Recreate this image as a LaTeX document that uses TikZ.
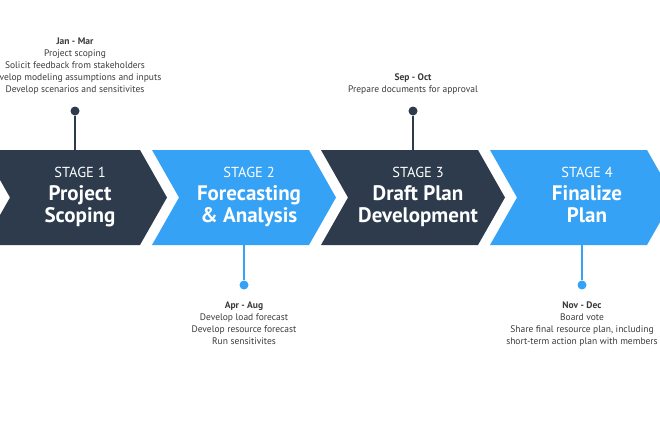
\documentclass[tikz,border=0pt]{standalone}
\usepackage{fontspec}
\setmainfont{PT Sans}
\usetikzlibrary{positioning}
\definecolor{navy}{HTML}{2D3B4D}
\definecolor{sky}{HTML}{36A2F5}
\definecolor{ink}{HTML}{3A3A3A}

\begin{document}
\begin{tikzpicture}[x=1pt,y=-1pt,
    box/.style={minimum width=184pt,minimum height=95pt,inner sep=0pt},
    stagetag/.style={anchor=base,text=white,font=\fontsize{14.5}{16}\selectfont},
    stagename/.style={anchor=base,text=white,font=\fontsize{21}{22}\selectfont\bfseries},
    pin/.style={circle,fill,inner sep=0pt,minimum size=9pt},
    stem/.style={line width=2.5pt},
    note/.style={align=center,inner sep=0pt,text=ink,font=\fontsize{9.5}{12}\selectfont}]
        \useasboundingbox (0,0) rectangle (660,428);

        % chevrons
        \foreach \n/\xa/\col/\la/\lb in {1/-17/navy/Project/Scoping,
                2/152/sky/Forecasting/\& Analysis,
                3/321/navy/Draft Plan/Development,
                4/490/sky/Finalize/Plan}{
            \fill[\col] (\xa,150) -- ++(157,0) -- ++(27,47.5) -- ++(-27,47.5)
                -- ++(-157,0) -- ++(27,-47.5) -- cycle;
            \node[box] (c\n) at (\xa+92,197.5) {};
            \node[stagetag] (t\n) at (\xa+97,177) {STAGE \n};
            \node[stagename] (a\n) at (\xa+97,200) {\la};
            \node[stagename] (b\n) at (\xa+97,222) {\lb};
        }

        % pins
        \node[pin,navy] (p1) at (75,111) {};
        \node[pin,sky] (p2) at (244,285) {};
        \node[pin,navy] (p3) at (413,111) {};
        \node[pin,sky] (p4) at (582,285) {};
        \draw[stem,navy] (p1) -- (p1 |- c1.north);
        \draw[stem,sky] (p2) -- (p2 |- c2.south);
        \draw[stem,navy] (p3) -- (p3 |- c3.north);
        \draw[stem,sky] (p4) -- (p4 |- c4.south);

        % notes
        \node[note,above=12pt of p1] (n1) {\textbf{Jan - Mar}\\Project scoping\\Solicit feedback from stakeholders\\Develop modeling assumptions and inputs\\Develop scenarios and sensitivites};
        \node[note,below=12pt of p2] (n2) {\textbf{Apr - Aug}\\Develop load forecast\\Develop resource forecast\\Run sensitivites};
        \node[note,above=12pt of p3] (n3) {\textbf{Sep - Oct}\\Prepare documents for approval};
        \node[note,below=12pt of p4] (n4) {\textbf{Nov - Dec}\\Board vote\\Share final resource plan, including\\short-term action plan with members};
      \end{tikzpicture}
\end{document}
